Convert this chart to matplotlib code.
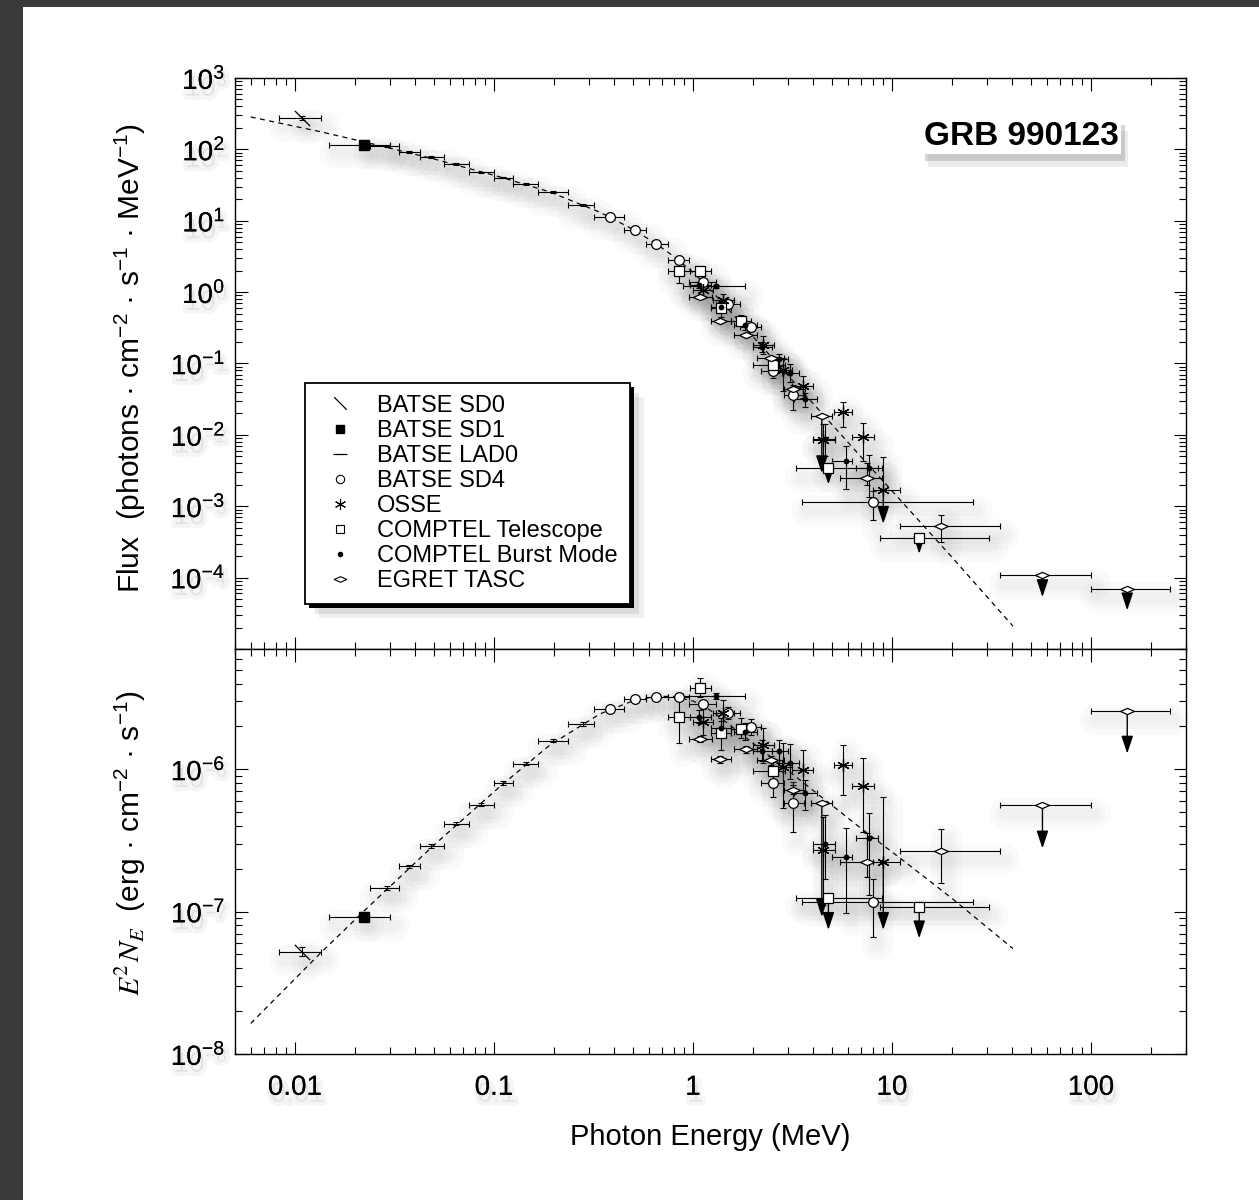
import numpy as np
import matplotlib
matplotlib.use("Agg")
import matplotlib.pyplot as plt
import matplotlib.patheffects as pe
from matplotlib.path import Path
from matplotlib.lines import Line2D
from matplotlib.patches import Rectangle
from matplotlib import ticker

plt.rcParams['font.family'] = ['Liberation Sans', 'DejaVu Sans']
plt.rcParams['mathtext.fontset'] = 'stix'
plt.rcParams['mathtext.default'] = 'regular'
plt.rcParams['axes.unicode_minus'] = False

MEV_TO_ERG = 1.602e-6
nan = float('nan')

# ==========================
# Data  (read off the E^2 N_E panel, erg cm^-2 s^-1)
# columns: E, E_lo, E_hi, E2NE, E2NE_lo, E2NE_hi, upper-limit arrow tip
# ==========================

batse_sd0 = [
    (0.0109, 0.0083, 0.0135, 5.24e-8, 4.85e-8, 5.65e-8, nan),
]

batse_sd1 = [
    (0.0223, 0.0149, 0.0300, 9.2e-8, 8.9e-8, 9.5e-8, nan),
]

batse_lad0 = [
    (0.0289, 0.0239, 0.0334, 1.47e-7, 1.43e-7, 1.51e-7, nan),
    (0.0375, 0.0334, 0.0423, 2.08e-7, 2.02e-7, 2.14e-7, nan),
    (0.0482, 0.0423, 0.0564, 2.90e-7, 2.82e-7, 2.98e-7, nan),
    (0.0644, 0.0564, 0.0752, 4.15e-7, 4.03e-7, 4.27e-7, nan),
    (0.0861, 0.0752, 0.1000, 5.64e-7, 5.48e-7, 5.80e-7, nan),
    (0.1114, 0.1000, 0.1252, 8.00e-7, 7.77e-7, 8.23e-7, nan),
    (0.1449, 0.1252, 0.1667, 1.095e-6, 1.065e-6, 1.125e-6, nan),
    (0.1987, 0.1667, 0.2344, 1.59e-6, 1.55e-6, 1.63e-6, nan),
    (0.2810, 0.2344, 0.3182, 2.09e-6, 2.03e-6, 2.15e-6, nan),
]

batse_sd4 = [
    (0.383, 0.318, 0.448, 2.67e-6, 2.60e-6, 2.74e-6, nan),
    (0.511, 0.448, 0.580, 3.10e-6, 3.02e-6, 3.18e-6, nan),
    (0.652, 0.580, 0.750, 3.24e-6, 3.12e-6, 3.36e-6, nan),
    (0.850, 0.750, 0.960, 3.24e-6, 3.08e-6, 3.40e-6, nan),
    (1.127, 0.960, 1.300, 2.86e-6, 2.65e-6, 3.08e-6, nan),
    (1.503, 1.300, 1.730, 2.50e-6, 2.25e-6, 2.75e-6, nan),
    (1.950, 1.730, 2.200, 1.99e-6, 1.75e-6, 2.25e-6, nan),
    (2.510, 2.200, 2.850, 8.05e-7, 6.40e-7, 9.40e-7, nan),
    (3.190, 2.850, 3.600, 5.83e-7, 3.60e-7, 8.20e-7, nan),
    (8.000, 3.520, 25.60, 1.175e-7, 6.67e-8, 1.69e-7, nan),
]

osse = [
    (1.127, 1.00, 1.26, 2.16e-6, 1.74e-6, 3.00e-6, nan),
    (1.420, 1.26, 1.60, 2.49e-6, 1.69e-6, 3.06e-6, nan),
    (2.250, 2.00, 2.55, 1.48e-6, 1.11e-6, 1.95e-6, nan),
    (2.840, 2.50, 3.15, 1.04e-6, 5.35e-7, 1.53e-6, nan),
    (3.580, 3.15, 4.00, 9.90e-7, 6.78e-7, 1.37e-6, nan),
    (4.490, 4.00, 5.20, 2.71e-7, 1.12e-7, 4.64e-7, nan),
    (5.690, 5.10, 6.30, 1.07e-6, 6.60e-7, 1.48e-6, nan),
    (7.180, 6.30, 8.15, 7.67e-7, 3.60e-7, 1.20e-6, nan),
    (9.040, 8.00, 11.0, 2.24e-7, 2.24e-7, 6.40e-7, 7.45e-8),
]

comptel_tel = [
    (0.850, 0.75, 0.97, 2.32e-6, 1.53e-6, 3.17e-6, nan),
    (1.084, 0.97, 1.23, 3.74e-6, 3.22e-6, 4.37e-6, nan),
    (1.380, 1.23, 1.55, 1.81e-6, 1.37e-6, 2.30e-6, nan),
    (1.737, 1.55, 1.95, 1.92e-6, 1.66e-6, 2.30e-6, nan),
    (2.510, 2.00, 2.90, 9.70e-7, 7.98e-7, 1.13e-6, nan),
    (4.790, 3.30, 8.87, 1.25e-7, 1.25e-7, 1.25e-7, 7.45e-8),
    (13.70, 8.71, 30.6, 1.08e-7, 1.08e-7, 1.08e-7, 6.5e-8),
]

comptel_burst = [
    (1.075, 0.97, 1.23, 2.34e-6, 2.10e-6, 2.60e-6, nan),
    (1.300, 0.89, 1.83, 3.27e-6, 3.10e-6, 3.45e-6, nan),
    (1.390, 1.23, 1.55, 1.94e-6, 1.70e-6, 2.20e-6, nan),
    (1.830, 1.60, 2.10, 1.84e-6, 1.60e-6, 2.10e-6, nan),
    (2.220, 2.00, 2.50, 1.35e-6, 1.15e-6, 1.60e-6, nan),
    (2.710, 2.50, 3.00, 1.35e-6, 1.10e-6, 1.60e-6, nan),
    (3.080, 2.80, 3.40, 1.11e-6, 8.50e-7, 1.50e-6, nan),
    (3.660, 3.20, 4.20, 6.85e-7, 5.20e-7, 8.40e-7, nan),
    (4.610, 4.00, 5.20, 2.99e-7, 1.70e-7, 4.80e-7, nan),
    (5.900, 5.00, 6.30, 2.43e-7, 9.80e-8, 3.90e-7, nan),
    (7.700, 6.60, 8.50, 3.30e-7, 1.30e-7, 4.95e-7, nan),
]

egret_tasc = [
    (1.084, 0.96, 1.25, 1.63e-6, 1.55e-6, 1.72e-6, nan),
    (1.367, 1.23, 1.55, 1.175e-6, 1.10e-6, 1.25e-6, nan),
    (1.845, 1.60, 2.10, 1.38e-6, 1.30e-6, 1.46e-6, nan),
    (2.470, 2.10, 2.85, 1.16e-6, 1.08e-6, 1.25e-6, nan),
    (3.190, 2.85, 3.65, 7.16e-7, 6.70e-7, 7.70e-7, nan),
    (4.440, 3.90, 5.00, 5.82e-7, 5.82e-7, 5.82e-7, 9.2e-8),
    (7.460, 5.50, 8.90, 2.22e-7, 1.76e-7, 3.55e-7, nan),
    (17.70, 11.0, 35.0, 2.68e-7, 1.58e-7, 3.79e-7, nan),
    (57.00, 35.0, 100., 5.61e-7, 5.61e-7, 5.61e-7, 2.78e-7),
    (152.0, 100., 250., 2.57e-6, 2.57e-6, 2.57e-6, 1.29e-6),
]

# Band-function fit (dashed)
model_e = [0.006, 0.0136, 0.0229, 0.0495, 0.107, 0.191, 0.341, 0.5, 0.65,
           0.8, 1.0, 1.15, 1.3, 1.42, 1.94, 3.38, 6.9, 11.9, 20.3, 40.5]
model_e2ne = [1.64e-8, 5.2e-8, 1.05e-7, 2.9e-7, 7.55e-7, 1.48e-6, 2.45e-6,
              3.03e-6, 3.25e-6, 3.25e-6, 3.02e-6, 2.75e-6, 2.44e-6, 2.22e-6,
              1.58e-6, 8.6e-7, 3.9e-7, 2.18e-7, 1.22e-7, 5.5e-8]

# ==========================
# Marker styles
# ==========================

backslash = Path([(-1, 1), (1, -1)], [Path.MOVETO, Path.LINETO])
flat_diamond = Path([(-1, 0), (0, 0.45), (1, 0), (0, -0.45), (-1, 0)],
                    [Path.MOVETO, Path.LINETO, Path.LINETO, Path.LINETO, Path.CLOSEPOLY])

series = [
    ("BATSE SD0", batse_sd0, dict(marker=backslash, ms=11, mec='k', mew=0.9)),
    ("BATSE SD1", batse_sd1, dict(marker='s', ms=7, mfc='k', mec='k')),
    ("BATSE LAD0", batse_lad0, dict(marker='none')),
    ("BATSE SD4", batse_sd4, dict(marker='o', ms=7, mfc='white', mec='k', mew=0.9)),
    ("OSSE", osse, dict(marker=(6, 2, 0), ms=9, mec='k', mew=0.9)),
    ("COMPTEL Telescope", comptel_tel, dict(marker='s', ms=7, mfc='white', mec='k', mew=0.9)),
    ("COMPTEL Burst Mode", comptel_burst, dict(marker='o', ms=3.2, mfc='k', mec='k')),
    ("EGRET TASC", egret_tasc, dict(marker=flat_diamond, ms=10, mfc='white', mec='k', mew=0.9)),
]

legend_styles = {
    "BATSE SD0": dict(marker=backslash, ms=9, mec='k', mew=0.9),
    "BATSE SD1": dict(marker='s', ms=6, mfc='k', mec='k'),
    "BATSE LAD0": dict(marker='_', ms=10, mec='k', mew=0.9),
    "BATSE SD4": dict(marker='o', ms=6, mfc='white', mec='k', mew=0.8),
    "OSSE": dict(marker=(6, 2, 0), ms=8, mec='k', mew=0.8),
    "COMPTEL Telescope": dict(marker='s', ms=6, mfc='white', mec='k', mew=0.8),
    "COMPTEL Burst Mode": dict(marker='o', ms=3, mfc='k', mec='k'),
    "EGRET TASC": dict(marker=flat_diamond, ms=9, mfc='white', mec='k', mew=0.8),
}


def soft_shadow(offset=(3, -6), widths=(22, 14, 8), alpha=0.022, color='0.25'):
    # faint, wide, round-capped offset strokes stacked to fake a blurred shadow
    effects = [pe.SimpleLineShadow(offset=offset, shadow_color=color, alpha=alpha,
                                   linewidth=w, capstyle='round') for w in widths]
    return effects + [pe.Normal()]


def to_flux(e, v):
    return v / (e ** 2 * MEV_TO_ERG)


def draw_series(ax, rows, style, flux):
    d = np.array(rows, dtype=float)
    e, elo, ehi, y, ylo, yhi, tip = d.T
    if flux:
        y, ylo, yhi, tip = [to_flux(e, a) for a in (y, ylo, yhi, tip)]
    eb = ax.errorbar(e, y, xerr=[e - elo, ehi - e], yerr=[y - ylo, yhi - y],
                     fmt='none', ecolor='k', elinewidth=0.8, capsize=2,
                     capthick=0.8, zorder=3)
    for art in eb.lines[2]:
        art.set_path_effects(soft_shadow())
    for ee, yy, tt in zip(e, y, tip):
        if np.isfinite(tt):
            ax.annotate('', xy=(ee, tt), xytext=(ee, yy),
                        arrowprops=dict(arrowstyle='-|>,head_length=0.9,head_width=0.3',
                                        color='k', lw=1.0, shrinkA=0, shrinkB=0,
                                        mutation_scale=12),
                        zorder=3)
    ax.plot(e, y, ls='none', zorder=4, **style)


# ==========================
# Figure
# ==========================

fig = plt.figure(figsize=(12.59, 12.0), dpi=100)
fig.patch.set_facecolor('#3a3a3a')
fig.add_artist(Rectangle((23 / 1259, 0), 1, 1 - 7 / 1200, transform=fig.transFigure,
                         fc='white', ec='none', zorder=-5))

ax1 = fig.add_axes([0.18666, 0.45917, 0.75536, 0.47583])
ax2 = fig.add_axes([0.18666, 0.12167, 0.75536, 0.3375], sharex=ax1)

for label, rows, style in series:
    draw_series(ax1, rows, style, flux=True)
    draw_series(ax2, rows, style, flux=False)

me = np.array(model_e)
mv = np.array(model_e2ne)
ax1.plot(me, to_flux(me, mv), color='k', lw=0.9, ls=(0, (4, 3.5)), zorder=2)
ax2.plot(me, mv, color='k', lw=0.9, ls=(0, (4, 3.5)), zorder=2)

# axes, ticks
for ax in (ax1, ax2):
    ax.set_xscale('log')
    ax.set_yscale('log')
    ax.xaxis.set_major_locator(ticker.LogLocator(base=10, numticks=30))
    ax.xaxis.set_minor_locator(ticker.LogLocator(base=10, subs=np.arange(2, 10), numticks=30))
    ax.yaxis.set_major_locator(ticker.LogLocator(base=10, numticks=30))
    ax.yaxis.set_minor_locator(ticker.LogLocator(base=10, subs=np.arange(2, 10), numticks=30))
    ax.yaxis.set_minor_formatter(ticker.NullFormatter())
    ax.tick_params(which='both', direction='in', top=True, right=True, width=0.8)
    ax.tick_params(which='major', length=9, labelsize=20, pad=7)
    ax.tick_params(which='minor', length=5)
    for s in ax.spines.values():
        s.set_linewidth(1.0)

ax2.set_xlim(0.005, 300)
ax1.set_ylim(1e-5, 1e3)
ax2.set_ylim(1e-8, 7e-6)


def pow10(v, pos):
    return r'$\mathregular{10^{%d}}$' % int(round(np.log10(v)))


ax1.yaxis.set_major_formatter(ticker.FuncFormatter(lambda v, p: '' if v < 5e-5 else pow10(v, p)))
ax2.yaxis.set_major_formatter(ticker.FuncFormatter(pow10))
ax2.xaxis.set_major_formatter(ticker.FuncFormatter(lambda v, p: f'{v:g}'))
ax2.xaxis.set_minor_formatter(ticker.NullFormatter())
ax1.tick_params(labelbottom=False)
ax2.tick_params(axis='x', pad=15)

text_glow = [pe.withStroke(linewidth=6, foreground='0.55', alpha=0.08, offset=(2, -5))]
for ax in (ax1, ax2):
    for lab in ax.get_yticklabels() + ax.get_xticklabels():
        lab.set_path_effects(text_glow + [pe.Normal()])

ax1.set_ylabel('Flux  (photons · cm$^{-2}$ · s$^{-1}$ · MeV$^{-1}$)', fontsize=21.5)
ax2.set_ylabel(r'$\mathit{E}^{\mathrm{2}}\,\mathit{N}_{\mathit{E}}$  (erg · cm$^{-2}$ · s$^{-1}$)',
               fontsize=21.5)
ax1.yaxis.set_label_coords(-0.092, 0.51)
ax2.yaxis.set_label_coords(-0.092, 0.522)
ax2.set_xlabel('Photon Energy (MeV)', fontsize=21, labelpad=16)

# legend
handles = [Line2D([], [], ls='none', label=lab, **legend_styles[lab]) for lab, _, _ in series]
leg = ax1.legend(handles=handles, loc='upper left', bbox_to_anchor=(0.0736, 0.466),
                 borderaxespad=0, fontsize=17, fancybox=False, edgecolor='k',
                 framealpha=1, handlelength=2.0, handletextpad=0.56,
                 borderpad=0.5, labelspacing=0.13)
leg.get_frame().set_linewidth(1.3)
leg.get_frame().set_path_effects([
    pe.SimplePatchShadow(offset=(10, -10), shadow_rgbFace='0.5', alpha=0.12),
    pe.SimplePatchShadow(offset=(7, -7), shadow_rgbFace='0.4', alpha=0.15),
    pe.SimplePatchShadow(offset=(3, -3), shadow_rgbFace='k', alpha=1.0),
    pe.Normal()])

# burst label
t = ax1.text(0.8265, 0.898, 'GRB 990123', transform=ax1.transAxes, ha='center',
             va='center', fontsize=24, fontweight='bold', zorder=6,
             bbox=dict(boxstyle='square,pad=0.08', fc='white', ec='none'))
t.get_bbox_patch().set_path_effects([
    pe.SimplePatchShadow(offset=(5, -9), shadow_rgbFace='0.4', alpha=0.12),
    pe.SimplePatchShadow(offset=(3, -5), shadow_rgbFace='0.3', alpha=0.22),
    pe.Normal()])

fig.savefig('out.png', dpi=100, facecolor=fig.get_facecolor())
